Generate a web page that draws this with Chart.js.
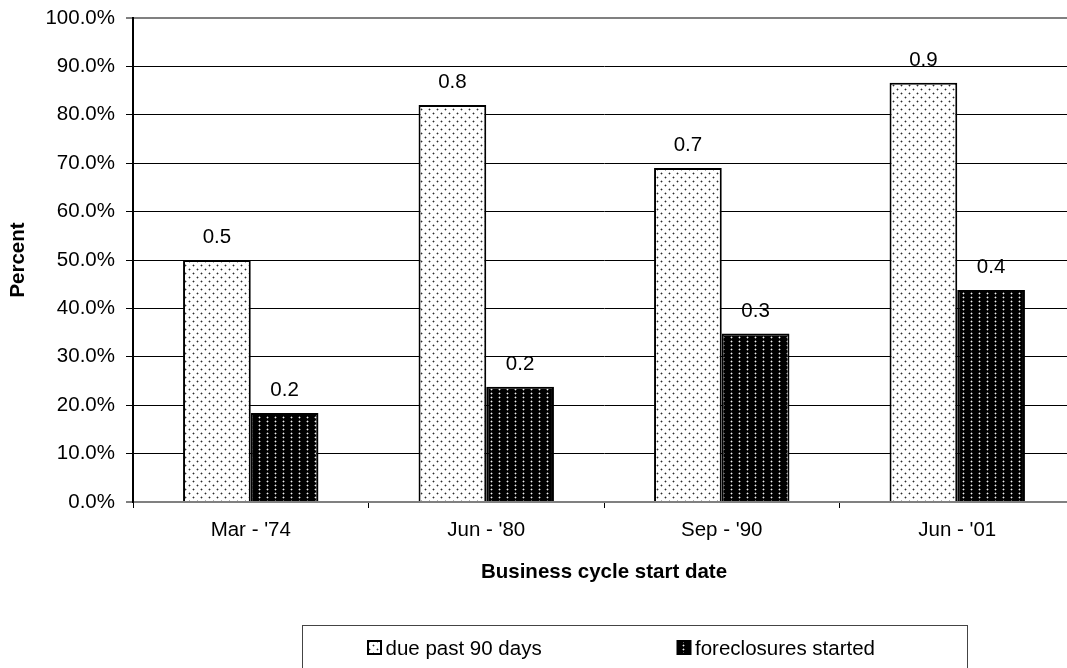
<!DOCTYPE html>
<html>
<head>
<meta charset="utf-8">
<title>Delinquency and foreclosure rates by business cycle</title>
<script src="https://cdn.jsdelivr.net/npm/chart.js@4/dist/chart.umd.min.js"></script>
<style>
  html, body { margin: 0; padding: 0; background: #fff; overflow: hidden; }
  #wrap { width: 1067px; height: 668px; overflow: hidden; }
  canvas { display: block; }
</style>
</head>
<body>
<div id="wrap"><canvas id="chart" width="1100" height="668"></canvas></div>
<script>
// Business cycle start dates (categories)
const categories = ["Mar - '74", "Jun - '80", "Sep - '90", "Jun - '01"];
// Share of loans, as fractions of 1
const duePast90 = [0.50, 0.82, 0.69, 0.866];
const foreclosuresStarted = [0.184, 0.238, 0.348, 0.438];
const seriesNames = ['due past 90 days', 'foreclosures started'];
// Value axis
const yMin = 0, yMax = 1, yStep = 0.1;

const FONT = "'Liberation Sans', Arial, Helvetica, sans-serif";
const FS = 20.5;

// Dotted hatch fills
function makePattern(w, h, bg, dots, core, halo) {
  const c = document.createElement('canvas');
  c.width = w; c.height = h;
  const g = c.getContext('2d');
  g.fillStyle = bg; g.fillRect(0, 0, w, h);
  dots.forEach(([x, y]) => {
    g.fillStyle = halo;
    g.fillRect(x - 1, y, 1, 1); g.fillRect(x + 1, y, 1, 1);
    g.fillRect(x, y - 1, 1, 1); g.fillRect(x, y + 1, 1, 1);
    g.fillStyle = core;
    g.fillRect(x, y, 1, 1);
  });
  return g.createPattern(c, 'repeat');
}
const lightFill = makePattern(8, 8, '#ffffff', [[1, 1], [5, 5]], '#2a2a2a', '#b0b0b0');
const darkFill = makePattern(8, 4, '#000000', [[3, 1]], '#f4f4f4', '#5a5a5a');

const isOne = v => Math.abs(v - 1) < 1e-9;
const isZero = v => Math.abs(v) < 1e-9;

// Value labels above each bar
const valueLabels = {
  id: 'valueLabels',
  afterDatasetsDraw(chart) {
    const ctx = chart.ctx;
    ctx.save();
    ctx.font = FS + 'px ' + FONT;
    ctx.fillStyle = '#000';
    ctx.textAlign = 'center';
    ctx.textBaseline = 'alphabetic';
    chart.data.datasets.forEach((ds, i) => {
      chart.getDatasetMeta(i).data.forEach((bar, j) => {
        ctx.fillText(ds.data[j].toFixed(1), bar.x, bar.y - 17);
      });
    });
    ctx.restore();
  }
};

// Boxed legend under the chart
const boxedLegend = {
  id: 'boxedLegend',
  afterDraw(chart) {
    const ctx = chart.ctx;
    ctx.save();
    ctx.strokeStyle = '#444';
    ctx.lineWidth = 1;
    ctx.strokeRect(302.5, 625.5, 665, 100);
    const items = [
      { mx: 368, tx: 385.5 },
      { mx: 677.5, tx: 695 }
    ];
    ctx.font = FS + 'px ' + FONT;
    ctx.textBaseline = 'alphabetic';
    ctx.textAlign = 'left';
    chart.data.datasets.forEach((ds, i) => {
      const it = items[i];
      ctx.fillStyle = ds.backgroundColor;
      ctx.fillRect(it.mx, 641, 13, 13);
      ctx.strokeStyle = '#000';
      ctx.lineWidth = 2;
      ctx.strokeRect(it.mx, 641, 13, 13);
      ctx.fillStyle = '#000';
      ctx.fillText(ds.label, it.tx, 655);
    });
    ctx.restore();
  }
};

Chart.defaults.font.family = FONT;
Chart.defaults.font.size = FS;
Chart.defaults.color = '#000';

new Chart(document.getElementById('chart'), {
  type: 'bar',
  data: {
    labels: categories,
    datasets: [
      {
        label: seriesNames[0],
        data: duePast90,
        backgroundColor: lightFill,
        borderColor: '#000',
        borderWidth: 2
      },
      {
        label: seriesNames[1],
        data: foreclosuresStarted,
        backgroundColor: darkFill,
        borderColor: '#000',
        borderWidth: 2
      }
    ]
  },
  options: {
    responsive: false,
    animation: false,
    events: [],
    layout: { padding: { top: 18, right: 25, bottom: 0, left: 0 } },
    datasets: { bar: { categoryPercentage: 0.575, barPercentage: 1.0 } },
    plugins: {
      legend: { display: false },
      tooltip: { enabled: false }
    },
    scales: {
      x: {
        afterFit(s) { s.height = 166; },
        grid: {
          display: true,
          drawOnChartArea: false,
          drawTicks: true,
          tickLength: 6,
          offset: true,
          color: '#000',
          lineWidth: 1
        },
        border: { display: true, color: '#808080', width: 2 },
        ticks: { padding: 10, maxRotation: 0, autoSkip: false, font: { size: FS } },
        title: {
          display: true,
          text: 'Business cycle start date',
          font: { size: FS, weight: 'bold' },
          padding: { top: 0, bottom: 83 }
        }
      },
      y: {
        min: yMin,
        max: yMax,
        afterFit(s) {
          s.width = 133;
          s.paddingTop = 0;
          s.paddingBottom = 0;
        },
        grid: {
          color: c => (isOne(c.tick.value) || isZero(c.tick.value)) ? '#808080' : '#000',
          lineWidth: c => (isOne(c.tick.value) || isZero(c.tick.value)) ? 2 : 1,
          tickColor: '#000',
          tickWidth: 1,
          tickLength: 7,
          drawTicks: true
        },
        border: { display: true, color: '#000', width: 2 },
        ticks: {
          stepSize: yStep,
          padding: 11,
          font: { size: FS },
          callback: v => (v * 100).toFixed(1) + '%'
        },
        title: {
          display: true,
          text: 'Percent',
          font: { size: FS, weight: 'bold' },
          padding: { top: 6, bottom: 0 }
        }
      }
    }
  },
  plugins: [valueLabels, boxedLegend]
});
</script>
</body>
</html>
